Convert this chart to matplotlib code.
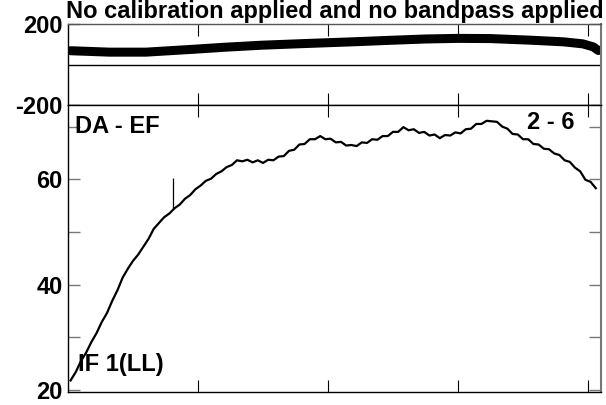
import numpy as np
import matplotlib
matplotlib.use("Agg")
import matplotlib.pyplot as plt

plt.rcParams['font.family'] = ['Liberation Sans', 'DejaVu Sans']
plt.rcParams['font.weight'] = 'bold'

TITLE = "No calibration applied and no bandpass applied"
BASELINE = "DA - EF"
STOKES = "IF 1(LL)"
PAIR = "2 - 6"

# amplitude, one value every 4 channels (2, 6, ..., 406)
amp = [
    21.8, 23.4, 25.5, 27.1, 29.1, 30.8, 32.9, 34.6, 36.9, 38.9,
    41.3, 43.0, 44.5, 45.7, 47.2, 48.7, 50.6, 51.7, 52.8, 53.5,
    54.5, 55.2, 56.3, 57.0, 58.1, 58.8, 59.7, 60.1, 61.0, 61.5,
    62.3, 62.7, 63.6, 63.4, 63.7, 63.2, 63.6, 63.1, 63.7, 63.6,
    64.3, 64.4, 65.4, 65.6, 66.6, 66.7, 67.6, 67.6, 68.2, 67.6,
    67.7, 67.0, 67.1, 66.4, 66.5, 66.3, 67.0, 66.9, 67.6, 67.5,
    68.2, 68.2, 69.0, 69.0, 69.9, 69.3, 69.5, 68.8, 69.0, 68.3,
    68.5, 67.8, 68.4, 68.3, 68.9, 68.7, 69.5, 69.6, 70.5, 70.5,
    71.1, 71.0, 70.9, 70.0, 69.6, 68.6, 68.5, 67.6, 67.6, 66.7,
    66.6, 65.8, 65.7, 64.9, 64.6, 63.6, 63.3, 62.2, 61.5, 59.9,
    59.5, 58.3,
]
amp_chan = np.arange(2, 407, 4)

# single-channel spike
spike_chan = 81
spike_lo = 54.3
spike_hi = 60.3

# phase (degrees)
phase_chan = [2, 32, 60, 96, 120, 148, 180, 219, 250, 275, 300, 325, 356, 381, 396, 404, 408]
phase = [68, 61, 61, 75, 85, 95, 103, 112, 120, 126, 129, 128, 120, 112, 102, 87, 69]

FS = 17

fig = plt.figure(figsize=(6.06, 4.05), dpi=100)
L, W = 68 / 606, 533 / 606
ax1 = fig.add_axes([L, 1 - 105 / 405, W, 81 / 405])
ax2 = fig.add_axes([L, 1 - 392 / 405, W, 287 / 405])

tick_len = 8.6
for ax in (ax1, ax2):
    ax.set_xlim(0, 410)
    ax.set_xticks([100, 200, 300, 400])
    ax.tick_params(axis='x', direction='in', top=True, bottom=True,
                   labelbottom=False, length=tick_len, width=0.8, color='black')
    ax.tick_params(axis='y', direction='in', left=True, right=True,
                   length=tick_len, width=1.0, color='#777777', pad=4)
    for s in ax.spines.values():
        s.set_linewidth(1.0)
    ax.spines['right'].set_color('#777777')
    ax.spines['right'].set_linewidth(1.5)

# top panel: phase
ax1.plot(phase_chan, phase, color='black', lw=6.5, solid_capstyle='round')
ax1.axhline(0, color='black', lw=1.0)
ax1.set_ylim(-200, 200)
ax1.set_yticks([-200, 200])
ax1.set_yticklabels(['-200', '200'], fontweight='bold', fontsize=FS)
ax1.spines['top'].set_color('#555555')

# bottom panel: amplitude
ax2.plot(amp_chan, amp, color='black', lw=1.6)
ax2.vlines(spike_chan, spike_lo, spike_hi, color='black', lw=0.9)
ax2.set_ylim(19.6, 74.1)
ax2.set_yticks([20, 30, 40, 50, 60, 70])
ax2.set_yticklabels(['20', '', '40', '', '60', ''], fontweight='bold', fontsize=FS)

ax2.text(0.013, 0.925, BASELINE, transform=ax2.transAxes, fontsize=FS,
         fontweight='bold', va='center', ha='left')
ax2.text(0.951, 0.94, PAIR, transform=ax2.transAxes, fontsize=FS,
         fontweight='bold', va='center', ha='right')
ax2.text(0.018, 0.095, STOKES, transform=ax2.transAxes, fontsize=FS,
         fontweight='bold', va='center', ha='left')

fig.text((68 + 601) / 2 / 606, 1 - 18 / 405, TITLE, fontsize=FS,
         fontweight='bold', ha='center', va='baseline')

fig.savefig("out.png", dpi=100)
